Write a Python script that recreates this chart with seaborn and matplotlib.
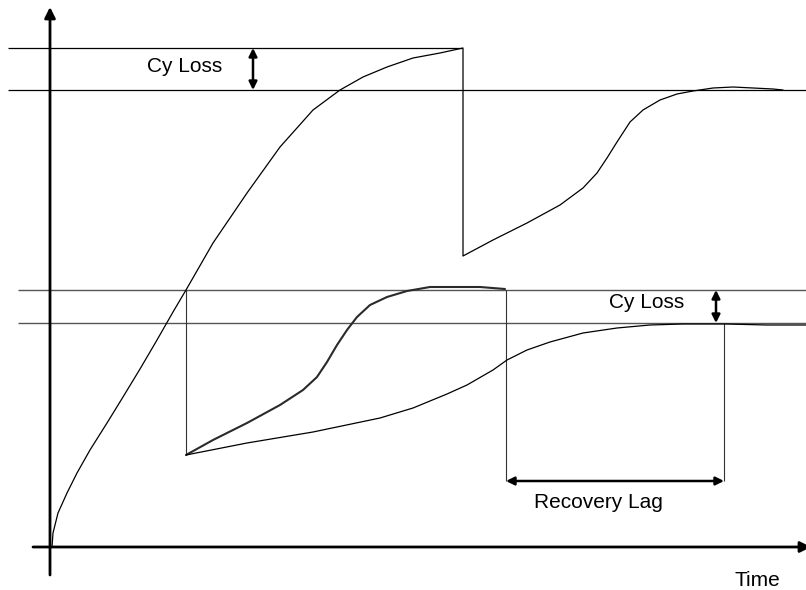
import numpy as np
import pandas as pd
import seaborn as sns
import matplotlib.pyplot as plt

# schematic, in picture units (x right, y down)
main_x = [52, 53, 58, 67, 77, 90, 107, 123, 140, 157, 173, 186, 213, 247, 280, 313, 340,
          363, 387, 413, 440, 463, 463, 493, 527, 560, 583, 597, 607, 617, 630, 643, 660,
          677, 693, 713, 733, 753, 773, 783]
main_y = [547, 533, 513, 493, 473, 450, 423, 397, 369, 340, 312, 290, 243, 193, 147, 110, 90,
          77, 67, 58, 53, 48, 256, 240, 223, 205, 188, 173, 158, 142, 122, 110, 100,
          94, 91, 88, 87, 88, 89, 90]

fast_x = [186, 213, 247, 280, 303, 317, 327, 337, 347, 357, 370, 387, 407, 430, 453, 480, 505]
fast_y = [455, 440, 423, 405, 390, 377, 362, 345, 330, 317, 305, 297, 291, 287, 287, 287, 289]

slow_x = [186, 247, 313, 380, 413, 430, 447, 467, 493, 507, 527, 550, 583, 617, 650, 683, 725, 767, 806]
slow_y = [455, 443, 432, 418, 408, 401, 394, 385, 370, 360, 350, 342, 333, 328, 325, 324, 324, 325, 325]

ref_y = [48, 90, 290, 323]
ref_start = [8, 8, 18, 18]
ref_end = [462, 806, 806, 806]

drop_x = [186, 506, 724]
drop_top = [290, 290, 323]
drop_bottom = [455, 481, 481]
lag_y = 481

sns.set_style("white")
plt.rcParams['font.family'] = ['Liberation Sans', 'DejaVu Sans']

fig = plt.figure(figsize=(8.06, 5.9), dpi=100)
ax = fig.add_axes([0, 0, 1, 1])
ax.set_xlim(0, 806)
ax.set_ylim(590, 0)
ax.axis("off")

# reference levels
ax.hlines(ref_y[:2], ref_start[:2], ref_end[:2], color="black", lw=0.9)
ax.hlines(ref_y[2:], ref_start[2:], ref_end[2:], color="#555555", lw=1.0)

# drop lines
ax.vlines(drop_x, drop_top, drop_bottom, color="#333333", lw=0.8)

sns.lineplot(x=main_x, y=main_y, sort=False, estimator=None, color="black", lw=0.9, ax=ax)
sns.lineplot(x=fast_x, y=fast_y, sort=False, estimator=None, color="#2a2a2a", lw=1.5, ax=ax)
sns.lineplot(x=slow_x, y=slow_y, sort=False, estimator=None, color="black", lw=0.9, ax=ax)

# axes with arrows
arrow_kw = dict(arrowstyle="-|>", color="black", lw=2, mutation_scale=16, shrinkA=0, shrinkB=0)
ax.annotate("", xy=(50, 7), xytext=(50, 575), arrowprops=arrow_kw, annotation_clip=False)
ax.annotate("", xy=(811, 547), xytext=(33, 547), arrowprops=arrow_kw, annotation_clip=False)

# double arrows
dbl_kw = dict(arrowstyle="<|-|>", color="black", lw=1.8, mutation_scale=12, shrinkA=0, shrinkB=0)
ax.annotate("", xy=(253, 48), xytext=(253, 90), arrowprops=dbl_kw)
ax.annotate("", xy=(716, 290), xytext=(716, 323), arrowprops=dbl_kw)
ax.annotate("", xy=(506, lag_y), xytext=(724, lag_y), arrowprops=dbl_kw)

ax.text(185, 66, "Cy Loss", fontsize=15, ha="center", va="center", color="black")
ax.text(647, 303, "Cy Loss", fontsize=15, ha="center", va="center", color="black")
ax.text(598, 503, "Recovery Lag", fontsize=15, ha="center", va="center", color="black")
ax.text(757, 580, "Time", fontsize=15, ha="center", va="center", color="black")

fig.savefig("out.png", dpi=100)
